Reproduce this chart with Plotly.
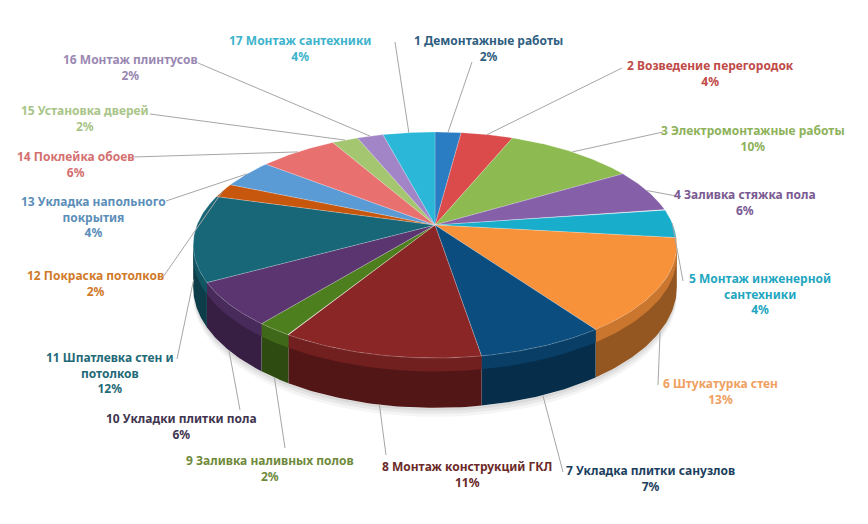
import numpy as np
import plotly.graph_objects as go

# data
labels = ["1 Демонтажные работы", "2 Возведение перегородок", "3 Электромонтажные работы",
          "4 Заливка стяжка пола", "5 Монтаж инженерной<br>сантехники", "6 Штукатурка стен",
          "7 Укладка плитки санузлов", "8 Монтаж конструкций ГКЛ", "9 Заливка наливных полов",
          "10 Укладки плитки пола", "11 Шпатлевка стен и<br>потолков", "12 Покраска потолков",
          "13 Укладка напольного<br>покрытия", "14 Поклейка обоев", "15 Установка дверей",
          "16 Монтаж плинтусов", "17 Монтаж сантехники"]
values = [2, 4, 10, 6, 4, 13, 7, 11, 2, 6, 12, 2, 4, 6, 2, 2, 4]

slice_colors = ["#2A7DC2", "#DB4B4B", "#8DBB52", "#8560A8", "#18AECB", "#F7913A",
                "#0B4D7E", "#8B2626", "#4E7F1E", "#5A3570", "#176778", "#C8570E",
                "#5A9BD6", "#E8706E", "#A4C670", "#A285C6", "#2BB8D8"]
text_colors = ["#2F5E80", "#C04A48", "#8DB25A", "#7A5A92", "#23A6C0", "#F0A060",
               "#1C3F60", "#6B2A28", "#6F8A3A", "#3F3550", "#1F6A78", "#D07A2A",
               "#5B8EB8", "#D47070", "#A9C588", "#9A88B2", "#3DB3CC"]

# label block centres and leader-line start points (page pixels)
label_x = [488, 710, 753, 745, 760, 720, 650, 467, 270, 181, 110, 95, 93, 75, 85, 130, 300]
label_y = [48, 73, 138, 202, 294, 391, 478, 474, 468, 426, 373, 283, 217, 164, 118, 67, 48]
anchor_x = [472, 622, 663, 676, 683, 658, 563, 386, 285, 240, 177, 163, 166, 133, 150, 198, 395]
anchor_y = [62, 68, 132, 196, 281, 385, 472, 455, 448, 410, 359, 277, 201, 157, 114, 63, 42]

# 3d pie geometry
cx, cy = 435, 225
rx, ry = 238, 109.5
dist = 5.65
depth = 41

# page body has an 8px margin, so the figure is drawn 8px smaller
pad = 8


def proj(theta):
    t = np.radians(theta)
    X, Y = np.sin(t), np.cos(t)
    s = dist / (dist + Y)
    return cx + rx * X * s, cy - ry * Y * s, s


def shade(hx, f):
    r, g, b = int(hx[1:3], 16), int(hx[3:5], 16), int(hx[5:7], 16)
    return "rgb(%d,%d,%d)" % (r * f, g * f, b * f)


fig = go.Figure()
bounds = np.concatenate([[0], np.cumsum(values)]) / sum(values) * 360
lim = np.degrees(np.arccos(-1 / dist))

# soft shadow under the front
for off, op in [(9, 0.04), (6, 0.05), (3, 0.06)]:
    th = np.linspace(lim - 10, 360 - lim + 10, 120)
    x, y, s = proj(th)
    fig.add_trace(go.Scatter(x=np.concatenate([x, x[::-1]]),
                             y=np.concatenate([y + depth * s + off, (y + depth * s)[::-1]]),
                             fill="toself", fillcolor="rgba(0,0,0,%s)" % op,
                             line=dict(width=0), mode="lines", hoverinfo="skip"))

# visible sides
for i in range(len(values)):
    a0, a1 = max(bounds[i], lim), min(bounds[i + 1], 360 - lim)
    if a1 <= a0:
        continue
    th = np.linspace(a0, a1, 40)
    x, y, s = proj(th)
    fig.add_trace(go.Scatter(x=np.concatenate([x, x[::-1]]),
                             y=np.concatenate([y, (y + depth * s)[::-1]]),
                             fill="toself", fillcolor=shade(slice_colors[i], 0.6),
                             line=dict(width=0), mode="lines", hoverinfo="skip"))
    fig.add_trace(go.Scatter(x=np.concatenate([x, x[::-1]]),
                             y=np.concatenate([y, (y + 11 * s)[::-1]]),
                             fill="toself", fillcolor=shade(slice_colors[i], 0.82),
                             line=dict(width=0), mode="lines", hoverinfo="skip"))

# top faces
for i in range(len(values)):
    th = np.linspace(bounds[i], bounds[i + 1], 40)
    x, y, _ = proj(th)
    fig.add_trace(go.Scatter(x=np.concatenate([[cx], x, [cx]]),
                             y=np.concatenate([[cy], y, [cy]]),
                             fill="toself", fillcolor=slice_colors[i],
                             line=dict(width=0.6, color="rgba(255,255,255,0.35)"),
                             mode="lines", name=labels[i], hoverinfo="name"))

# leader lines
lx, ly = [], []
for i in range(len(values)):
    mid = (bounds[i] + bounds[i + 1]) / 2
    ex, ey, s = proj(mid)
    if 90 < mid < 270:
        ey = ey + depth * s
    lx += [anchor_x[i], float(ex), None]
    ly += [anchor_y[i], float(ey), None]
fig.add_trace(go.Scatter(x=lx, y=ly, mode="lines", line=dict(color="#A6A6A6", width=1),
                         hoverinfo="skip"))

for i in range(len(values)):
    fig.add_annotation(x=label_x[i], y=label_y[i], text="<b>%s<br>%d%%</b>" % (labels[i], values[i]),
                       showarrow=False, xanchor="center", yanchor="middle",
                       font=dict(family="Noto Sans", size=12, color=text_colors[i]))

fig.update_layout(width=868 - pad, height=524 - pad, autosize=False, showlegend=False,
                  margin=dict(l=0, r=0, t=0, b=0),
                  plot_bgcolor="white", paper_bgcolor="white",
                  xaxis=dict(range=[pad, 868], visible=False, fixedrange=True),
                  yaxis=dict(range=[524, pad], visible=False, fixedrange=True))
fig.write_html("out.html")
